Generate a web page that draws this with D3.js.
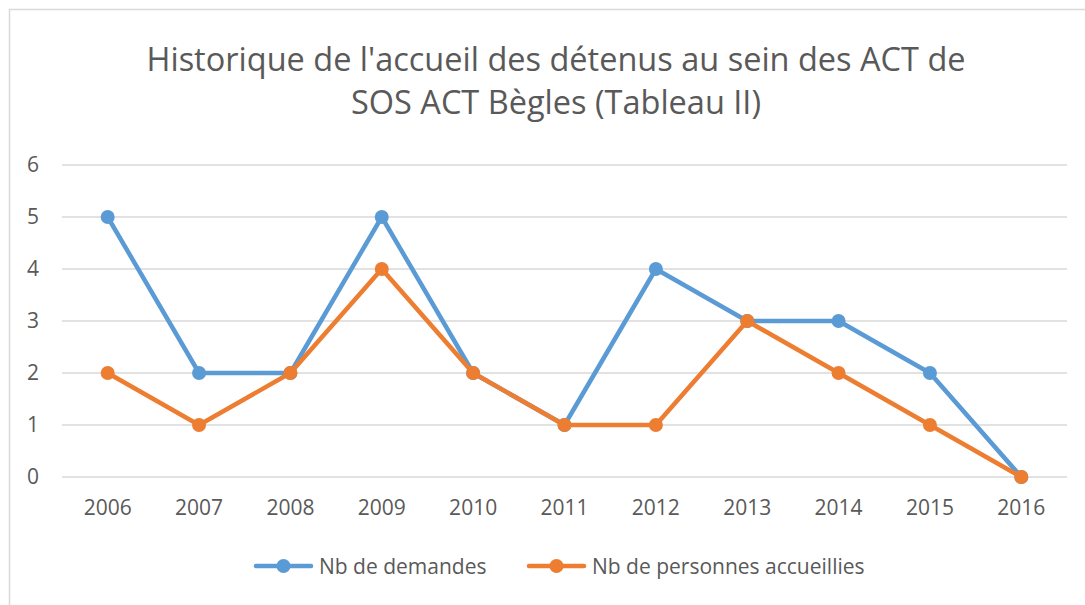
<!DOCTYPE html>
<html>
<head>
<meta charset="utf-8">
<script src="https://cdn.jsdelivr.net/npm/d3@7"></script>
<style>
  body { margin: 0; background: #fff; }
  svg { display: block; font-family: "Open Sans", sans-serif; }
</style>
</head>
<body>
<div id="chart"></div>
<script>
// data
const years = ["2006", "2007", "2008", "2009", "2010", "2011", "2012", "2013", "2014", "2015", "2016"];
const demandes = [5, 2, 2, 5, 2, 1, 4, 3, 3, 2, 0];
const accueillies = [2, 1, 2, 4, 2, 1, 1, 3, 2, 1, 0];
const yTicks = [0, 1, 2, 3, 4, 5, 6];
const seriesNames = ["Nb de demandes", "Nb de personnes accueillies"];
const titleLines = ["Historique de l'accueil des détenus au sein des ACT de", "SOS ACT Bègles (Tableau II)"];

const w = 1085, h = 605;
const colors = ["#5B9BD5", "#ED7D31"];
const textColor = "#595959";

const svg = d3.select("#chart").append("svg").attr("width", w).attr("height", h);

// chart border
svg.append("rect")
    .attr("x", 9.5).attr("y", 9.5)
    .attr("width", w + 20).attr("height", h + 20)
    .attr("fill", "none").attr("stroke", "#d9d9d9").attr("stroke-width", 1.5);

// title
svg.append("g").selectAll("text")
    .data(titleLines)
    .join("text")
    .attr("x", 556).attr("y", (d, i) => 71 + i * 43)
    .attr("text-anchor", "middle")
    .attr("font-size", 32.5)
    .attr("fill", textColor)
    .text(d => d);

// scales
const x = d3.scaleBand().domain(years).range([62, 1067]);
const y = d3.scaleLinear().domain([0, 6]).range([477, 165]);

// gridlines
svg.append("g").selectAll("line")
    .data(yTicks)
    .join("line")
    .attr("x1", 62).attr("x2", 1067)
    .attr("y1", d => y(d)).attr("y2", d => y(d))
    .attr("stroke", "#d9d9d9").attr("stroke-width", 1.5);

// y axis labels
const yAxis = d3.axisLeft(y).tickValues(yTicks).tickFormat(d3.format("d")).tickSize(0).tickPadding(0);
svg.append("g")
    .attr("transform", "translate(39,0)")
    .call(yAxis)
    .attr("font-size", 21)
    .attr("font-family", "Open Sans, sans-serif")
    .call(g => g.select(".domain").remove())
    .call(g => g.selectAll("text").attr("fill", textColor));

// x axis labels
const xAxis = d3.axisBottom(x).tickSize(0).tickPadding(0);
svg.append("g")
    .attr("transform", "translate(0,500)")
    .call(xAxis)
    .attr("font-size", 21)
    .attr("font-family", "Open Sans, sans-serif")
    .call(g => g.select(".domain").remove())
    .call(g => g.selectAll("text").attr("fill", textColor));

// lines
const line = d3.line()
    .x((d, i) => x(years[i]) + x.bandwidth() / 2)
    .y(d => y(d));

[demandes, accueillies].forEach((series, k) => {
    svg.append("path")
        .datum(series)
        .attr("fill", "none")
        .attr("stroke", colors[k])
        .attr("stroke-width", 4.5)
        .attr("stroke-linejoin", "round")
        .attr("stroke-linecap", "round")
        .attr("d", line);
    svg.append("g").selectAll("circle")
        .data(series)
        .join("circle")
        .attr("cx", (d, i) => x(years[i]) + x.bandwidth() / 2)
        .attr("cy", d => y(d))
        .attr("r", 7)
        .attr("fill", colors[k]);
});

// legend
const legendX = [256, 529];
const legend = svg.append("g").selectAll("g")
    .data(seriesNames)
    .join("g")
    .attr("transform", (d, i) => "translate(" + legendX[i] + ",566)");
legend.append("line")
    .attr("x1", 0).attr("x2", 55)
    .attr("stroke", (d, i) => colors[i]).attr("stroke-width", 4.5)
    .attr("stroke-linecap", "round");
legend.append("circle")
    .attr("cx", 27.5).attr("r", 7)
    .attr("fill", (d, i) => colors[i]);
legend.append("text")
    .attr("x", 63).attr("y", 7.5)
    .attr("font-size", 21)
    .attr("fill", textColor)
    .text(d => d);
</script>
</body>
</html>
